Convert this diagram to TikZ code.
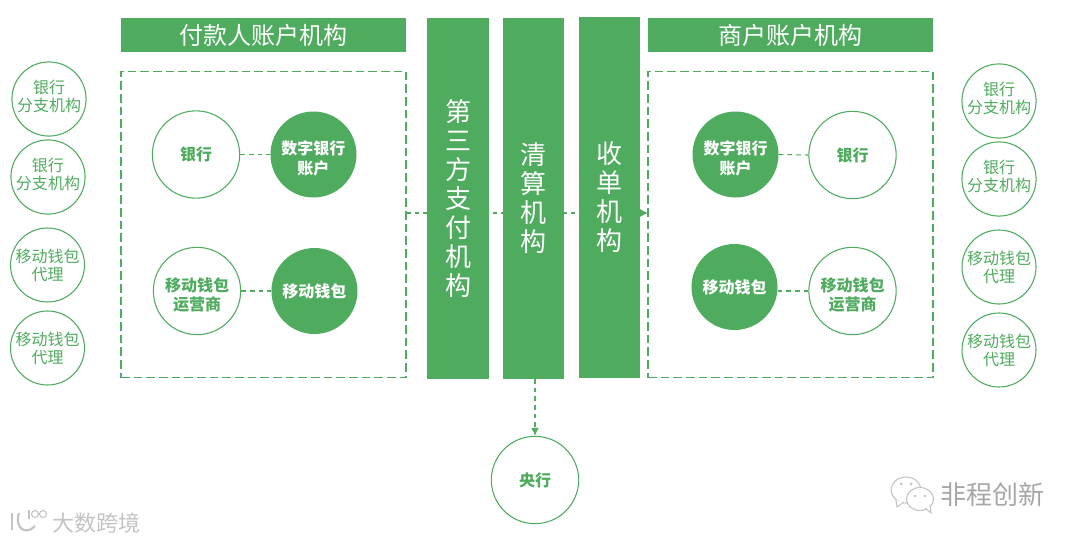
\documentclass[tikz,border=0pt]{standalone}
\usepackage{fontspec}
\setmainfont{Noto Sans CJK SC}
\definecolor{paygreen}{RGB}{79, 171, 94}
\definecolor{markgray}{RGB}{195, 195, 195}
\usetikzlibrary{
  arrows.meta,
  positioning,
}
\newcommand{\lowerline}{\rule{0pt}{16pt}}
\tikzset{
  >={Latex[length=6pt,width=6pt]},
  headbox/.style={rectangle,minimum width=213.75pt,minimum height=25.5pt,inner sep=0pt,fill=paygreen,text=white,font=\fontsize{18}{22}\selectfont},
  groupbox/.style={draw=paygreen,dash pattern=on 6.5pt off 3pt,line width=0.8pt,rectangle,minimum width=213.75pt,minimum height=230pt,inner sep=0pt},
  columnbox/.style={rectangle,minimum width=46pt,minimum height=270.5pt,inner sep=0pt,fill=paygreen,text=white,align=center,font=\fontsize{19.5}{21.75}\selectfont},
  branch/.style={draw=paygreen,circle,minimum size=55.5pt,inner sep=0pt,line width=0.8pt,text=paygreen,align=center,font=\fontsize{12}{13.5}\selectfont},
  outercircle/.style={draw=paygreen,circle,minimum size=65.5pt,inner sep=0pt,line width=0.8pt,text=paygreen,align=center,font=\fontsize{12}{14.5}\selectfont\bfseries},
  innercircle/.style={circle,minimum size=64.5pt,inner sep=0pt,fill=paygreen,text=white,align=center,font=\fontsize{12}{14.5}\selectfont\bfseries},
  raisetext/.style={execute at end node=\rule[-4.5pt]{0pt}{0pt}},
  link/.style={draw=paygreen,dash pattern=on 3.5pt off 3pt,line width=0.8pt},
  markline/.style={draw=markgray,line width=0.8pt,fill=white},
}
\begin{document}
\begin{tikzpicture}[x=0.75pt,y=-0.75pt,node distance=22.5pt]
    \useasboundingbox (0,0) rectangle (1080,543);

    % main flow runs behind the three columns
    \coordinate (f0) at (406,213);
    \coordinate (f1) at (648,213);
    \draw[link,->] (f0) -- (f1);

    \node[headbox]    (h0) at (263.5,35)    {付款人账户机构};
    \node[headbox]    (h1) at (790,35)      {商户账户机构};
    \node[groupbox]   (g0) at (263.5,224.5) {};
    \node[groupbox]   (g1) at (790.5,224.5) {};

    \node[columnbox]  (c0) at (458,198.5)   {第\\三\\方\\支\\付\\机\\构};
    \node[columnbox]  (c1) at (533.5,198.5) {清\\算\\机\\构};
    \node[columnbox]  (c2) at (609.5,197.5) {收\\单\\机\\构};

    % left side
    \node[branch,raisetext] (b0) at (49,99)     {银行\\分支机构};
    \node[branch,raisetext] (b1) at (48,177)    {银行\\分支机构};
    \node[branch]           (b2) at (47.5,265)  {移动钱包\\代理};
    \node[branch]           (b3) at (47.5,348)  {移动钱包\\代理};

    \node[outercircle] (a00) at (196,154.5) {银行};
    \node[innercircle] (a01) [right=of a00] {\lowerline 数字银行\\账户};
    \node[outercircle] (a10) at (197,291)   {\lowerline 移动钱包\\运营商};
    \node[innercircle] (a11) [right=of a10] {移动钱包};

    % right side
    \node[branch,raisetext] (b4) at (999,101)   {银行\\分支机构};
    \node[branch,raisetext] (b5) at (999,179)   {银行\\分支机构};
    \node[branch]           (b6) at (999,267)   {移动钱包\\代理};
    \node[branch]           (b7) at (999,350)   {移动钱包\\代理};

    \node[innercircle] (a02) at (735.5,154.5) {\lowerline 数字银行\\账户};
    \node[outercircle] (a03) at (852.5,155)   {银行};
    \node[innercircle] (a12) at (734.5,287)   {移动钱包};
    \node[outercircle] (a13) at (852.5,291)   {\lowerline 移动钱包\\运营商};

    \node[outercircle] (p0) at (535,480)    {央行};

    \draw[link] (a00.east) -- (a01.west);
    \draw[link] (a10.east) -- (a11.west);
    \draw[link] (a02.east) -- (a03.west);
    \draw[link] (a12.east |- a13.west) -- (a13.west);
    \draw[link,->] (c1.south -| p0.north) -- (p0.north);

    % watermarks
    \node[text=markgray,font=\fontsize{16.5}{20}\selectfont] (w0) at (96,523) {大数跨境};
    \node[text=black!35,font=\fontsize{19.5}{24}\selectfont] (w1) at (992,495) {非程创新};

    \draw[markline,line width=1.6pt,fill=none] (12,513) -- (12,530);
    \draw[markline,line width=1.6pt,fill=none] (19,513) .. controls (14,528) and (26,536) .. (35,526);
    \draw[markline,fill=none] (29,510) -- (29,519);
    \draw[markline,fill=none] (35,514) circle (3.5) (43,514) circle (3.5);

    \draw[markline] (906,490) ellipse (15 and 13);
    \draw[markline] (896,500) -- (897,507) -- (904,502);
    \draw[markline] (920,499) ellipse (13.5 and 11.5);
    \draw[markline] (925,508) -- (931,513) -- (930,505);
    \fill[markgray] (901,484) circle (1.5) (911,484) circle (1.5) (915,496) circle (1.3) (925,496) circle (1.3);
\end{tikzpicture}
\end{document}
